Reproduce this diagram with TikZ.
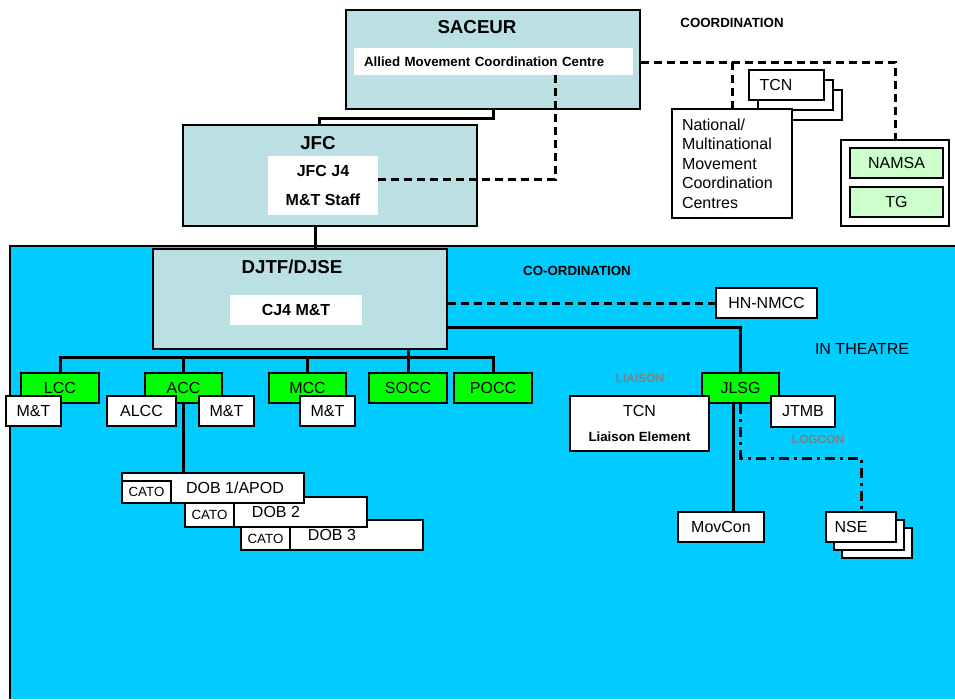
\documentclass[tikz,border=0pt]{standalone}
\usepackage{fontspec}
\setmainfont{Liberation Sans}
\definecolor{skyblue}{RGB}{0,204,255}
\definecolor{tealbox}{RGB}{187,224,227}
\definecolor{brightgreen}{RGB}{0,255,0}
\definecolor{palegreen}{RGB}{204,255,204}
\definecolor{greytxt}{RGB}{128,128,128}
\newcommand\fReg{\fontsize{16}{19}\selectfont}
\newcommand\fNat{\fontsize{16}{19.5}\selectfont}
\newcommand\fTtl{\fontsize{18.7}{22}\selectfont\bfseries}
\newcommand\fMid{\fontsize{16}{29}\selectfont\bfseries}
\newcommand\fMidb{\fontsize{16}{19}\selectfont\bfseries}
\newcommand\fSb{\fontsize{13.3}{16}\selectfont\bfseries}
\newcommand\fCat{\fontsize{13.3}{16}\selectfont}
\newcommand\fTiny{\fontsize{12}{14}\selectfont\bfseries}
\begin{document}
\begin{tikzpicture}[x=1pt,y=-1pt,
  sz/.style 2 args={minimum width=#1pt, minimum height=#2pt},
  wbox/.style={draw, line width=2.4pt, fill=white, inner sep=0pt, font=\fReg},
  gbox/.style={wbox, fill=brightgreen},
  tbox/.style={draw, line width=2.6pt, fill=tealbox, inner sep=0pt},
  inbox/.style={fill=white, draw=none, inner sep=0pt},
  conn/.style={line width=3pt},
  thinconn/.style={line width=2pt},
  dline/.style={line width=3pt, dash pattern=on 8pt off 5pt},
  ddline/.style={line width=3pt, dash pattern=on 10pt off 5pt on 3pt off 5pt},
  lbl/.style={inner sep=0pt}
]
\useasboundingbox (0,0) rectangle (955,699);
% theatre area
\fill[skyblue] (10,246) rectangle (955,699);
\draw[line width=2.4pt] (10,699) -- (10,246) -- (955,246);

% SACEUR
\node[tbox, sz={294}{99}] (saceur) at (493,59.5) {};
\node[lbl, font=\fTtl] (saceurT) at (477,27) {SACEUR};
\node[inbox, sz={279}{27}, inner xsep=10pt, text width=259pt, align=left, font=\fSb] (amcc) at (493.5,61.5) {Allied Movement Coordination Centre};

% JFC
\node[tbox, sz={294}{101}] (jfc) at (330,175.5) {};
\node[lbl, font=\fTtl] (jfcT) at (318,143) {JFC};
\node[inbox, sz={110}{59}, align=center, font=\fMid] (jfcj4) at (323,185.5) {JFC J4\\M\&T Staff};

% DJTF
\node[tbox, sz={294}{100}] (djtf) at (300,299) {};
\node[lbl, font=\fTtl] (djtfT) at (292,267) {DJTF/DJSE};
\node[inbox, sz={132}{30}, font=\fMidb] (cj4) at (296,310) {CJ4 M\&T};

% TCN stack and national centres
\node[wbox, sz={75}{30}] (tcn3) at (804.5,105) {};
\node[wbox, sz={75}{30}] (tcn2) at (795.5,95) {};
\node[wbox, sz={75}{30}] (tcn1) at (786.5,85) {TCN\hspace*{21pt}};
\node[wbox, sz={120}{109}, text width=100pt, align=left, font=\fNat] (national) at (732,163.5) {National/\\Multinational\\Movement\\Coordination\\Centres};

% NAMSA / TG
\node[wbox, sz={108}{86}] (namsabox) at (895,183) {};
\node[wbox, fill=palegreen, sz={93}{30}] (namsa) at (896.5,163) {NAMSA};
\node[wbox, fill=palegreen, sz={93}{30}] (tg) at (896.5,202) {TG};

% labels
\node[lbl, font=\fSb] (coordT) at (732,23) {COORDINATION};
\node[lbl, font=\fSb] (coordB) at (577,271) {CO-ORDINATION};
\node[lbl, font=\fReg] (inth) at (862,349) {IN THEATRE};
\node[lbl, font=\fTiny, text=greytxt] (liaison) at (640,378) {LIAISON};
\node[lbl, font=\fTiny, text=greytxt] (logcon) at (818,439) {LOGCON};

% component commands
\node[gbox, sz={78}{30}] (lcc) at (60,388) {LCC};
\node[gbox, sz={77}{30}] (acc) at (183.5,388) {ACC};
\node[gbox, sz={77}{30}] (mcc) at (307.5,388) {MCC};
\node[gbox, sz={78}{30}] (socc) at (408,388) {SOCC};
\node[gbox, sz={78}{30}] (pocc) at (493,388) {POCC};
\node[gbox, sz={77}{30}] (jlsg) at (740.5,388) {JLSG};

\node[wbox, sz={55}{30}] (mtl) at (33.5,411) {M\&T};
\node[wbox, sz={69}{30}] (alcc) at (141.5,411) {ALCC};
\node[wbox, sz={55}{30}] (mta) at (226.5,411) {M\&T};
\node[wbox, sz={55}{30}] (mtm) at (327.5,411) {M\&T};

\node[wbox, sz={139}{55}, align=center] (tcnle) at (639.5,423.5) {TCN\\[6pt]{\fSb Liaison Element}};
\node[wbox, sz={64}{31}] (jtmb) at (803,411.5) {JTMB};
\node[wbox, sz={101}{30}] (hnnmcc) at (766.5,303) {HN-NMCC};
\node[wbox, sz={86}{30}] (movcon) at (721,527) {MovCon};

% NSE stack
\node[wbox, sz={70}{30}] (nse3) at (877,543) {};
\node[wbox, sz={70}{30}] (nse2) at (869,535) {};
\node[wbox, sz={70}{30}] (nse1) at (861,527) {NSE\hspace*{20pt}};

% DOB stack
\node[wbox, sz={182}{30}] (dob3) at (332,535) {DOB 3};
\node[wbox, sz={49}{23}, font=\fCat] (cato3) at (265.5,538.5) {CATO};
\node[wbox, sz={182}{30}] (dob2) at (276,512) {DOB 2};
\node[wbox, sz={49}{24}, font=\fCat] (cato2) at (209.5,515) {CATO};
\node[wbox, sz={182}{30}] (dob1) at (213,488) {\hspace*{44pt}DOB 1/APOD};
\node[wbox, sz={49}{22}, font=\fCat] (cato1) at (146.5,492) {CATO};

% connectors
\draw[conn] (saceur.south) -- ++(0,8) -| ([xshift=-11pt]jfc.north);
\draw[conn] ([xshift=-15pt]jfc.south) -- ([xshift=15pt]djtf.north);
\draw[dline] ([yshift=6pt]jfcj4.east) -| ([xshift=61.5pt]amcc.south);
\coordinate (cline) at ([yshift=-2.5pt]saceur.east);
\draw[dline] (cline) -| (namsabox.north);
\draw[dline] (national.north |- cline) -- (national.north);
\coordinate (tt) at ([xshift=-28.5pt]tcn1.south);
\draw[thinconn] (tt) -- (tt |- national.north);

\coordinate (bus) at (408,357);
\draw[conn] (djtf.south -| socc.north) -- (socc.north);
\draw[conn] (lcc.north) -- (lcc.north |- bus) -- (pocc.north |- bus) -- (pocc.north);
\draw[conn] (acc.north) -- (acc.north |- bus);
\draw[conn] (mcc.north) -- (mcc.north |- bus);
\draw[conn] (acc.south) -- (acc.south |- dob1.north);

\draw[dline] (djtf.east |- hnnmcc.west) -- (hnnmcc.west);
\draw[conn] ([yshift=-28pt]djtf.east) -| (jlsg.north);
\coordinate (jm) at ([xshift=-7.5pt]jlsg.south);
\draw[conn] (jm) -- (jm |- movcon.north);
\draw[ddline] (jlsg.south) -- ++(0,54) -| (nse1.north);
\end{tikzpicture}
\end{document}
